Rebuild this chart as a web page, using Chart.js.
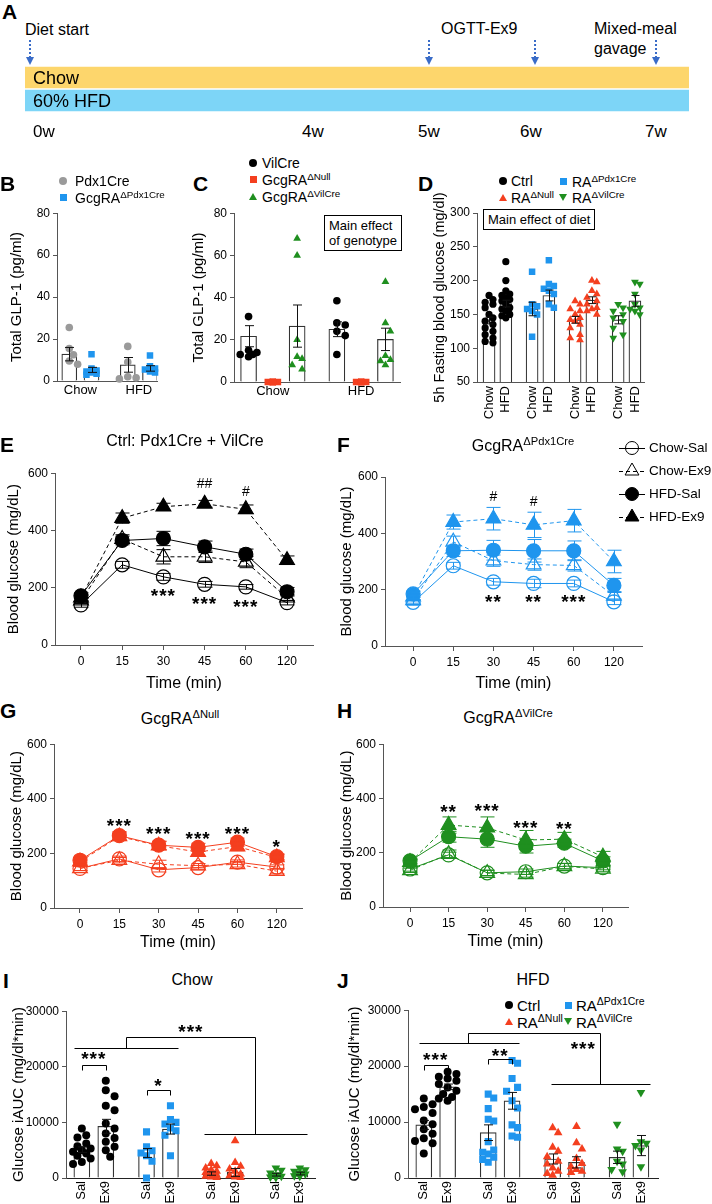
<!DOCTYPE html>
<html>
<head>
<meta charset="utf-8">
<script src="https://cdn.jsdelivr.net/npm/chart.js@4.4.0/dist/chart.umd.min.js"></script>
<style>
  body { margin: 0; background: #fff; }
  #fig { position: relative; width: 712px; height: 1204px; overflow: hidden; background: #fff;
         font-family: "Liberation Sans", Arial, Helvetica, sans-serif; color: #000; }
  #fig canvas { position: absolute; }
  .t { position: absolute; white-space: nowrap; line-height: 1; }
  .t sup { font-size: 0.7em; vertical-align: 0.5em; line-height: 0; }
  .box { position: absolute; border: 1px solid #000; font-size: 13px; line-height: 15px; padding: 2px 4px; background: #fff; }
  .mk { position: absolute; }
</style>
</head>
<body>
<div id="fig"></div>
<script>
// ---------------- data ----------------
const weekLabels = ['0w', '4w', '5w', '6w', '7w'];
const dietLabels = ['Chow', '60% HFD'];

// B: total GLP-1, Pdx1Cre vs GcgRA dPdx1Cre
const bDiets = ['Chow', 'HFD'];
const bPdxCre = [[25.5, 15.5, 12.5, 9.5, 8], [16.5, 9, 2, 1.5, 1]];
const bPdxCreMean = [12.8, 7.7];
const bPdxCreSem = [3.2, 3.5];
const bKo = [[12.8, 6, 5, 4.5, 4, 3.5, 3], [12.2, 7, 6, 5.5, 4.5, 4]];
const bKoMean = [5.3, 6.0];
const bKoSem = [1.2, 1.3];

// C: total GLP-1, VilCre / Null / dVilCre
const cVilCre = [[31, 15, 14, 13, 13, 12], [38.5, 28, 27, 24, 22, 13]];
const cVilCreMean = [21.7, 25];
const cVilCreSem = [5, 3.5];
const cNull = [[0, 0, 0, 0, 0, 0], [0, 0, 0, 0, 0, 0]];
const cNullMean = [0, 0];
const cVil = [[68, 60, 20, 12, 11, 6, 8], [47.5, 28, 24, 12.5, 10.5, 10, 8]];
const cVilMean = [26.5, 20.2];
const cVilSem = [10, 5.3];

// D: 5h fasting glucose [Chow, HFD] per genotype
const dCtrl = [[178, 172, 168, 165, 160, 150, 145, 140, 135, 130, 125, 120, 115, 110, 108],
               [228, 200, 185, 180, 178, 175, 172, 170, 165, 160, 158, 155, 150, 148, 145]];
const dCtrlMean = [141, 166];
const dCtrlSem = [5, 5];
const dPdx = [[213, 165, 162, 158, 155, 150, 117], [230, 195, 192, 188, 185, 180, 165, 160]];
const dPdxMean = [158, 178];
const dPdxSem = [10, 8];
const dNull = [[170, 165, 158, 155, 150, 145, 142, 140, 135, 130, 120, 115, 112],
               [200, 198, 185, 180, 175, 170, 165, 160, 158, 155, 150]];
const dNullMean = [142, 171];
const dNullSem = [5, 5];
const dVil = [[165, 160, 155, 150, 145, 140, 130, 120, 115], [198, 195, 180, 165, 160, 158, 155, 150]];
const dVilMean = [142, 170];
const dVilSem = [6, 8];

// E-H: OGTT blood glucose
const timeLabels = ['0', '15', '30', '45', '60', '120'];
const seriesNames = ['Chow-Sal', 'Chow-Ex9', 'HFD-Sal', 'HFD-Ex9'];

const eChowSal = [140, 280, 238, 212, 203, 148];
const eChowEx9 = [155, 370, 308, 308, 290, 165];
const eHfdSal  = [172, 365, 372, 343, 317, 186];
const eHfdEx9  = [165, 443, 483, 493, 474, 296];
const eSem = [[8, 12, 12, 10, 8, 8], [10, 15, 25, 20, 20, 10], [10, 15, 25, 20, 18, 15], [10, 18, 12, 12, 15, 15]];

const fChowSal = [155, 285, 228, 222, 222, 157];
const fChowEx9 = [162, 370, 303, 289, 286, 178];
const fHfdSal  = [185, 338, 340, 338, 338, 215];
const fHfdEx9  = [175, 440, 452, 430, 445, 300];
const fSem = [[10, 12, 12, 15, 12, 10], [10, 20, 20, 20, 20, 15], [10, 20, 35, 40, 35, 25], [10, 25, 40, 45, 40, 40]];

const gChowSal = [145, 180, 140, 148, 168, 150];
const gChowEx9 = [145, 175, 160, 155, 160, 135];
const gHfdSal  = [175, 265, 230, 222, 241, 188];
const gHfdEx9  = [170, 262, 228, 205, 225, 185];
const gSem = [[8, 10, 8, 8, 8, 8], [8, 10, 15, 8, 10, 10], [10, 15, 15, 15, 15, 10], [10, 15, 15, 15, 15, 10]];

const hChowSal = [140, 192, 126, 130, 151, 145];
const hChowEx9 = [135, 195, 125, 120, 150, 140];
const hHfdSal  = [170, 259, 250, 224, 235, 170];
const hHfdEx9  = [165, 302, 292, 247, 250, 185];
const hSem = [[8, 10, 10, 10, 10, 8], [8, 15, 10, 10, 10, 10], [10, 20, 30, 25, 15, 15], [10, 30, 40, 35, 25, 20]];

// I/J: glucose iAUC [Sal, Ex9] per genotype
const iCtrl = [[8900, 7700, 7300, 6200, 5700, 5300, 5000, 4700, 4400, 4000, 3500, 2900, 2500],
               [17500, 15800, 14700, 13000, 12200, 9800, 8900, 8000, 7200, 6500, 5600, 5000, 3800]];
const iCtrlMean = [5100, 9300];
const iCtrlSem = [500, 1250];
const iPdx = [[8300, 5600, 4900, 4500, 4000, 3000, 0], [13000, 10500, 10000, 9700, 9000, 8500, 7700, 4000]];
const iPdxMean = [4500, 8800];
const iPdxSem = [800, 900];
const iNull = [[2600, 2200, 1800, 1500, 1200, 1000, 800, 500, 300, 200, 100], [6700, 2800, 2100, 1600, 1200, 700, 400, 200, 100]];
const iNullMean = [800, 1000];
const iNullSem = [300, 700];
const iVil = [[1800, 1400, 900, 600, 300, 200, 100], [1800, 1500, 1200, 900, 700, 400, 300]];
const iVilMean = [600, 800];
const iVilSem = [250, 250];

const jCtrl = [[14200, 13200, 12700, 12300, 11600, 10300, 9600, 8700, 7900, 7100, 6600, 6200, 4400],
               [19000, 18600, 18100, 17800, 17400, 16800, 16200, 15600, 15000, 14500, 14200, 13800]];
const jCtrlMean = [9500, 16300];
const jCtrlSem = [800, 500];
const jPdx = [[15000, 14300, 12400, 10500, 10200, 6500, 5000, 4600, 4300, 3700, 3300, 2800],
              [21000, 20500, 17800, 16200, 15500, 13800, 12500, 9500, 9000, 7500, 7300]];
const jPdxMean = [8100, 13800];
const jPdxSem = [1400, 1500];
const jNull = [[9000, 8100, 5500, 4800, 3800, 3000, 2500, 1800, 1200, 800, 500], [9200, 6300, 5200, 3500, 2600, 2000, 1500, 1200, 1000]];
const jNullMean = [3400, 2800];
const jNullSem = [900, 1000];
const jVil = [[9600, 5200, 4800, 3000, 2500, 1500, 1100], [15300, 6500, 6200, 5800, 5000, 2000]];
const jVilMean = [3700, 5800];
const jVilSem = [1100, 1800];

// ---------------- setup ----------------
const FONT = '"Liberation Sans", Arial, Helvetica, sans-serif';
Chart.defaults.font.family = FONT;
Chart.defaults.color = '#000';
const AX = '#555';
const GREY = '#9a9a9a', BLUE = '#1f95ee', RED = '#f43f1f', GREEN = '#1f8f1f';
const fig = document.getElementById('fig');

function addText(html, x, y, size, align, bold) {
  const d = document.createElement('div');
  d.className = 't';
  d.innerHTML = html;
  d.style.left = x + 'px';
  d.style.top = y + 'px';
  d.style.fontSize = size + 'px';
  const ax = align === 'center' ? '-50%' : (align === 'right' ? '-100%' : '0');
  d.style.transform = `translate(${ax},-50%)`;
  if (bold) d.style.fontWeight = 'bold';
  fig.appendChild(d);
}

function marker(shape, color, cx, cy, s) {
  const d = document.createElement('div');
  d.className = 'mk';
  if (shape === 'circle' || shape === 'rect') {
    d.style.cssText += `left:${cx - s / 2}px;top:${cy - s / 2}px;width:${s}px;height:${s}px;background:${color};` +
      (shape === 'circle' ? 'border-radius:50%;' : '');
  } else {
    const h = s * 0.9;
    d.style.cssText += `left:${cx - s / 2}px;top:${cy - h / 2}px;width:0;height:0;` +
      `border-left:${s / 2}px solid transparent;border-right:${s / 2}px solid transparent;` +
      (shape === 'up' ? `border-bottom:${h}px solid ${color};` : `border-top:${h}px solid ${color};`);
  }
  fig.appendChild(d);
}

function box(html, x, y) {
  const d = document.createElement('div');
  d.className = 'box';
  d.innerHTML = html;
  d.style.left = x + 'px';
  d.style.top = y + 'px';
  fig.appendChild(d);
}

// plugins
const errPlugin = {
  id: 'err',
  afterDatasetsDraw(chart) {
    const ctx = chart.ctx, xs = chart.scales.x, ys = chart.scales.y;
    chart.data.datasets.forEach(ds => {
      if (!ds.sem) return;
      ctx.save();
      ctx.strokeStyle = ds.errColor || '#000';
      ctx.lineWidth = 1;
      ds.data.forEach((d, i) => {
        const s = ds.sem[i];
        if (!s) return;
        const x = Math.round(xs.getPixelForValue(d.x)) + 0.5;
        const yt = ys.getPixelForValue(d.y + s), yb = ys.getPixelForValue(d.y - s);
        const c = ds.errCap / 2;
        ctx.beginPath();
        ctx.moveTo(x, yt); ctx.lineTo(x, yb);
        ctx.moveTo(x - c, yt); ctx.lineTo(x + c, yt);
        ctx.moveTo(x - c, yb); ctx.lineTo(x + c, yb);
        ctx.stroke();
      });
      ctx.restore();
    });
  }
};

const notesPlugin = {
  id: 'notes',
  afterDatasetsDraw(chart, args, o) {
    const ctx = chart.ctx, xs = chart.scales.x, ys = chart.scales.y;
    ctx.save();
    ctx.strokeStyle = '#000';
    ctx.lineWidth = 1;
    (o.lines || []).forEach(pl => {
      ctx.beginPath();
      pl.forEach(([x, y], k) => {
        const px = Math.round(xs.getPixelForValue(x)) + 0.5, py = Math.round(ys.getPixelForValue(y)) + 0.5;
        if (k) ctx.lineTo(px, py); else ctx.moveTo(px, py);
      });
      ctx.stroke();
    });
    ctx.fillStyle = '#000';
    ctx.textAlign = 'center';
    ctx.textBaseline = 'middle';
    (o.texts || []).forEach(t => {
      const star = t.t.includes('*');
      const size = star ? 19 : 14;
      ctx.font = `${star ? 'bold ' : ''}${size}px ${FONT}`;
      ctx.letterSpacing = star ? '1px' : '0px';
      ctx.fillText(t.t, xs.getPixelForValue(t.x), ys.getPixelForValue(t.y) + (star ? size * 0.25 : 0));
    });
    ctx.restore();
  }
};

const legendPlugin = {
  id: 'sideLegend',
  afterDraw(chart, args, o) {
    if (!o.items) return;
    const ctx = chart.ctx, ox = chart.canvas.offsetLeft, oy = chart.canvas.offsetTop;
    ctx.save();
    o.items.forEach((it, k) => {
      const x = o.x - ox, y = o.y[k] - oy;
      ctx.strokeStyle = '#000';
      ctx.lineWidth = 1;
      ctx.setLineDash(it.dash);
      ctx.beginPath(); ctx.moveTo(x - 13, y + 0.5); ctx.lineTo(x + 13, y + 0.5); ctx.stroke();
      ctx.setLineDash([]);
      ctx.fillStyle = it.fill ? '#000' : 'rgba(0,0,0,0)';
      Chart.helpers.drawPoint(ctx, { pointStyle: it.style, radius: it.r, rotation: 0, borderWidth: 1.2 }, x, y);
      ctx.fillStyle = '#000';
      ctx.font = `13.5px ${FONT}`;
      ctx.textBaseline = 'middle';
      ctx.textAlign = 'left';
      ctx.fillText(it.label, x + 17, y);
    });
    ctx.restore();
  }
};

function makeCanvas(p) {
  const left = p.x0 - p.yw, top = p.y0 - p.pt;
  const w = p.x1 - left + p.pr, h = p.y1 - top + p.xh;
  const c = document.createElement('canvas');
  c.width = w; c.height = h;
  c.style.left = left + 'px'; c.style.top = top + 'px';
  c.style.width = w + 'px'; c.style.height = h + 'px';
  fig.appendChild(c);
  return c;
}

function baseOptions(p) {
  return {
    responsive: false, animation: false, devicePixelRatio: 1,
    layout: { padding: { left: 0, top: p.pt, right: p.pr, bottom: 0 } },
    plugins: { legend: { display: false }, tooltip: { enabled: false } }
  };
}

function yScale(p, o) {
  return {
    type: 'linear', min: o.ymin, max: o.ymax,
    ticks: { stepSize: o.ystep, font: { size: 12 }, padding: 3, callback: v => String(v) },
    grid: { drawOnChartArea: false, tickLength: 4, color: AX },
    border: { color: AX, width: 1 },
    title: { display: true, text: o.ytitle, font: { size: o.ytitleSize || 15 }, padding: 0 },
    afterFit: s => { s.width = p.yw; }
  };
}

// simple beeswarm: keeps the values, only spreads x so markers do not overlap
function swarm(vals, center, r, pxX, pxY, maxOff) {
  const idx = vals.map((v, i) => i).sort((a, b) => vals[b] - vals[a]);
  const placed = [], out = new Array(vals.length);
  const step = r * 1.1, cand = [0];
  for (let k = 1; k < 10; k++) cand.push(k * step, -k * step);
  idx.forEach(i => {
    const py = vals[i] * pxY;
    let best = 0, bestD = -1;
    for (const off of cand) {
      if (Math.abs(off) > maxOff) continue;
      let dmin = Infinity;
      placed.forEach(q => { dmin = Math.min(dmin, Math.hypot(q.x - off, q.y - py)); });
      if (dmin >= 2 * r * 0.95) { best = off; break; }
      if (dmin > bestD) { bestD = dmin; best = off; }
    }
    placed.push({ x: best, y: py });
    out[i] = center + best / pxX;
  });
  return out;
}

function barPanel(p, o) {
  const pxY = (p.y1 - p.y0) / (o.ymax - o.ymin), pxX = (p.x1 - p.x0) / (o.xmax - o.xmin);
  const datasets = [];
  o.groups.forEach(g => {
    const xs = swarm(g.vals, g.x, g.r, pxX, pxY, o.bw / 2 + 1);
    datasets.push({
      type: 'scatter', data: g.vals.map((v, i) => ({ x: xs[i], y: v })),
      pointStyle: g.style, pointRadius: g.r, pointRotation: g.rot || 0,
      backgroundColor: g.color, borderColor: g.color, borderWidth: 0, order: 1, clip: 8
    });
  });
  datasets.push({
    type: 'bar', data: o.groups.map(g => ({ x: g.x, y: g.mean })),
    sem: o.groups.map(g => g.sem), errCap: o.cap, errColor: '#111',
    backgroundColor: '#fff', borderColor: '#333', borderWidth: 1.2, barThickness: o.bw, order: 5
  });
  const opts = baseOptions(p);
  opts.plugins.notes = { lines: o.lines || [], texts: o.texts || [] };
  opts.scales = {
    x: {
      type: 'linear', min: o.xmin, max: o.xmax, offset: false,
      afterBuildTicks: s => { s.ticks = o.xticks.map(t => ({ value: t[0] })); },
      ticks: { callback: (v, i) => o.xticks[i][1], autoSkip: false, font: { size: 13 },
               minRotation: o.rot || 0, maxRotation: o.rot || 0, padding: o.xpad || 2 },
      grid: { display: false, drawTicks: false },
      border: { color: o.dashedBase ? '#222' : AX, width: 1, dash: o.dashedBase ? [2, 2] : [] },
      afterFit: s => { s.height = p.xh; }
    },
    y: yScale(p, o)
  };
  return new Chart(makeCanvas(p), { type: 'bar', data: { datasets }, options: opts, plugins: [errPlugin, notesPlugin] });
}

const lineStyles = [
  { style: 'circle', fill: false, dash: [], r: 7 },
  { style: 'triangle', fill: false, dash: [4, 3], r: 8.5 },
  { style: 'circle', fill: true, dash: [], r: 7 },
  { style: 'triangle', fill: true, dash: [4, 3], r: 8.5 }
];

function linePanel(p, o) {
  const datasets = o.series.map((s, k) => ({
    type: 'line', label: seriesNames[k], data: s.map((v, i) => ({ x: i, y: v })),
    sem: o.sems[k], errCap: 14, errColor: o.color,
    borderColor: o.color, borderWidth: 1, borderDash: lineStyles[k].dash,
    pointStyle: lineStyles[k].style, pointRadius: lineStyles[k].r,
    pointBackgroundColor: lineStyles[k].fill ? o.color : 'rgba(0,0,0,0)',
    pointBorderColor: o.color, pointBorderWidth: 1.2, fill: false, tension: 0, order: 4 - k
  }));
  const opts = baseOptions(p);
  opts.plugins.notes = { texts: o.texts || [] };
  if (o.legend) opts.plugins.sideLegend = o.legend;
  opts.scales = {
    x: {
      type: 'linear', min: o.xmin, max: o.xmax, offset: false,
      afterBuildTicks: s => { s.ticks = timeLabels.map((t, i) => ({ value: i })); },
      ticks: { callback: (v, i) => timeLabels[i], autoSkip: false, font: { size: 12 }, maxRotation: 0, padding: 4 },
      grid: { drawOnChartArea: false, tickLength: 5, color: AX },
      border: { color: AX, width: 1 },
      title: { display: true, text: 'Time (min)', font: { size: 16 }, padding: 0 },
      afterFit: s => { s.height = p.xh; }
    },
    y: yScale(p, { ymin: 0, ymax: 600, ystep: 200, ytitle: 'Blood glucose (mg/dL)' })
  };
  return new Chart(makeCanvas(p), { type: 'line', data: { datasets }, options: opts, plugins: [errPlugin, notesPlugin, legendPlugin] });
}

// ---------------- panel A ----------------
addText('A', 2, 11, 21, 'left', true);
addText('Diet start', 25, 30, 16, 'left');
addText('OGTT-Ex9', 441, 29, 16, 'left');
addText('Mixed-meal', 594, 29, 16, 'left');
addText('gavage', 594, 49, 16, 'left');
[30, 429, 535, 656].forEach(x => {
  const d = document.createElement('div');
  d.style.cssText = `position:absolute;left:${x - 1}px;top:40px;height:18px;border-left:2px dotted #3a6cc8;`;
  fig.appendChild(d);
  const a = document.createElement('div');
  a.style.cssText = `position:absolute;left:${x - 4}px;top:57px;width:0;height:0;border-left:4px solid transparent;border-right:4px solid transparent;border-top:8px solid #3a6cc8;`;
  fig.appendChild(a);
});
{
  const p = { x0: 25, x1: 689, y0: 66, y1: 112, yw: 0, pt: 0, pr: 0, xh: 0 };
  const opts = baseOptions(p);
  opts.indexAxis = 'y';
  opts.scales = { x: { display: false, min: 0, max: 7 }, y: { display: false } };
  new Chart(makeCanvas(p), {
    type: 'bar',
    data: { labels: dietLabels, datasets: [{ data: [[0, 7], [0, 7]], backgroundColor: ['#fdd66c', '#7dd5f7'],
      barPercentage: 1, categoryPercentage: 0.93 }] },
    options: opts
  });
}
addText(dietLabels[0], 33, 78, 18, 'left');
addText(dietLabels[1], 33, 101, 18, 'left');
[33, 302, 418, 520, 645].forEach((x, i) => addText(weekLabels[i], x, 131, 17, 'left'));

// ---------------- panel B ----------------
addText('B', 0, 183, 21, 'left', true);
marker('circle', GREY, 63, 181, 8); addText('Pdx1Cre', 75, 181, 14, 'left');
marker('rect', BLUE, 63, 197, 7); addText('GcgRA<sup>ΔPdx1Cre</sup>', 75, 198, 14, 'left');
barPanel({ x0: 57, x1: 157, y0: 213, y1: 381, yw: 49, pt: 10, pr: 8, xh: 30 }, {
  ymin: 0, ymax: 80, ystep: 20, ytitle: 'Total GLP-1 (pg/ml)', xmin: -0.40, xmax: 1.31, bw: 15, cap: 9,
  xticks: [[0, bDiets[0]], [1, bDiets[1]]],
  groups: [0, 1].flatMap(g => [
    { x: g - 0.19, vals: bPdxCre[g], mean: bPdxCreMean[g], sem: bPdxCreSem[g], color: GREY, style: 'circle', r: 3.8 },
    { x: g + 0.19, vals: bKo[g], mean: bKoMean[g], sem: bKoSem[g], color: BLUE, style: 'rect', r: 4.6 }
  ])
});

// ---------------- panel C ----------------
addText('C', 193, 183, 21, 'left', true);
marker('circle', '#000', 253, 163, 8); addText('VilCre', 262, 163, 14, 'left');
marker('rect', RED, 253, 179, 7); addText('GcgRA<sup>ΔNull</sup>', 262, 180, 14, 'left');
marker('up', GREEN, 253, 197, 8); addText('GcgRA<sup>ΔVilCre</sup>', 262, 197, 14, 'left');
barPanel({ x0: 234, x1: 400, y0: 213, y1: 382, yw: 44, pt: 10, pr: 8, xh: 30 }, {
  ymin: 0, ymax: 80, ystep: 20, ytitle: 'Total GLP-1 (pg/ml)', xmin: -0.44, xmax: 1.44, bw: 16, cap: 9,
  xticks: [[0, bDiets[0]], [1, bDiets[1]]],
  groups: [0, 1].flatMap(g => [
    { x: g - 0.275, vals: cVilCre[g], mean: cVilCreMean[g], sem: cVilCreSem[g], color: '#000', style: 'circle', r: 3.8 },
    { x: g, vals: cNull[g], mean: cNullMean[g], sem: 0, color: RED, style: 'rect', r: 4.6 },
    { x: g + 0.275, vals: cVil[g], mean: cVilMean[g], sem: cVilSem[g], color: GREEN, style: 'triangle', r: 4.5 }
  ])
});
box('Main effect<br>of genotype', 324, 215);

// ---------------- panel D ----------------
addText('D', 418, 183, 21, 'left', true);
marker('circle', '#000', 503, 181, 8); addText('Ctrl', 511, 181, 14, 'left');
marker('rect', BLUE, 563, 181, 7); addText('RA<sup>ΔPdx1Cre</sup>', 572, 182, 14, 'left');
marker('up', RED, 503, 198, 8); addText('RA<sup>ΔNull</sup>', 511, 198, 14, 'left');
marker('down', GREEN, 563, 198, 8); addText('RA<sup>ΔVilCre</sup>', 572, 198, 14, 'left');
{
  const dSets = [[dCtrl, dCtrlMean, dCtrlSem, '#000', 'circle', 0, 3.6], [dPdx, dPdxMean, dPdxSem, BLUE, 'rect', 0, 4.6],
                 [dNull, dNullMean, dNullSem, RED, 'triangle', 0, 4.5], [dVil, dVilMean, dVilSem, GREEN, 'triangle', 180, 4.5]];
  const groups = [], xticks = [];
  dSets.forEach((s, g) => [0, 1].forEach(k => {
    const x = g + (k ? 0.195 : -0.195);
    groups.push({ x, vals: s[0][k], mean: s[1][k], sem: s[2][k], color: s[3], style: s[4], rot: s[5], r: s[6] });
    xticks.push([x, bDiets[k]]);
  }));
  barPanel({ x0: 477, x1: 647, y0: 213, y1: 382, yw: 46, pt: 40, pr: 8, xh: 45 }, {
    ymin: 50, ymax: 300, ystep: 50, ytitle: '5h Fasting blood glucose (mg/dl)', ytitleSize: 14.5,
    xmin: -0.475, xmax: 3.42, bw: 12, cap: 8, rot: 90, xpad: 4, xticks, groups
  });
}
box('Main effect of diet', 483, 209);

// ---------------- panels E-H ----------------
addText('E', 0, 444, 21, 'left', true);
addText('Ctrl: Pdx1Cre + VilCre', 185, 441, 16, 'center');
linePanel({ x0: 55, x1: 313, y0: 473, y1: 645, yw: 50, pt: 10, pr: 10, xh: 48 }, {
  color: '#000', xmin: -0.63, xmax: 5.63, series: [eChowSal, eChowEx9, eHfdSal, eHfdEx9], sems: eSem,
  texts: [{ x: 2, y: 185, t: '***' }, { x: 3, y: 157, t: '***' }, { x: 4, y: 148, t: '***' },
          { x: 3, y: 561, t: '##' }, { x: 4, y: 533, t: '#' }]
});

addText('F', 337, 444, 21, 'left', true);
addText('GcgRA<sup>ΔPdx1Cre</sup>', 523, 446, 16, 'center');
linePanel({ x0: 385, x1: 642, y0: 477, y1: 646, yw: 47, pt: 40, pr: 70, xh: 47 }, {
  color: BLUE, xmin: -0.7, xmax: 5.7, series: [fChowSal, fChowEx9, fHfdSal, fHfdEx9], sems: fSem,
  texts: [{ x: 2, y: 170, t: '**' }, { x: 3, y: 170, t: '**' }, { x: 4, y: 170, t: '***' },
          { x: 2, y: 529, t: '#' }, { x: 3, y: 511, t: '#' }],
  legend: { x: 632, y: [448, 471, 494, 517],
            items: seriesNames.map((n, k) => ({ label: n, style: lineStyles[k].style, fill: lineStyles[k].fill,
                                                 dash: lineStyles[k].dash, r: lineStyles[k].r - 0.5 })) }
});

addText('G', 0, 710, 21, 'left', true);
addText('GcgRA<sup>ΔNull</sup>', 180, 719, 16, 'center');
linePanel({ x0: 54, x1: 302, y0: 744, y1: 908, yw: 46, pt: 10, pr: 10, xh: 44 }, {
  color: RED, xmin: -0.66, xmax: 5.64, series: [gChowSal, gChowEx9, gHfdSal, gHfdEx9], sems: gSem,
  texts: [{ x: 1, y: 315, t: '***' }, { x: 2, y: 285, t: '***' }, { x: 3, y: 267, t: '***' },
          { x: 4, y: 285, t: '***' }, { x: 5, y: 238, t: '*' }]
});

addText('H', 337, 710, 21, 'left', true);
addText('GcgRA<sup>ΔVilCre</sup>', 508, 718, 16, 'center');
linePanel({ x0: 383, x1: 628, y0: 744, y1: 907, yw: 45, pt: 10, pr: 10, xh: 44 }, {
  color: GREEN, xmin: -0.7, xmax: 5.65, series: [hChowSal, hChowEx9, hHfdSal, hHfdEx9], sems: hSem,
  texts: [{ x: 1, y: 364, t: '**' }, { x: 2, y: 368, t: '***' }, { x: 3, y: 305, t: '***' }, { x: 4, y: 302, t: '**' }]
});

// ---------------- panels I, J ----------------
const aucTicks = ['Sal', 'Ex9'];
function aucGroups(sets) {
  const groups = [], xticks = [];
  sets.forEach((s, g) => [0, 1].forEach(k => {
    const x = g + (k ? 0.185 : -0.185);
    groups.push({ x, vals: s[0][k], mean: s[1][k], sem: s[2][k], color: s[3], style: s[4], rot: s[5], r: s[6] });
    xticks.push([x, aucTicks[k]]);
  }));
  return { groups, xticks };
}

addText('I', 3, 980, 21, 'left', true);
addText('Chow', 192, 980, 16, 'center');
{
  const gg = aucGroups([[iCtrl, iCtrlMean, iCtrlSem, '#000', 'circle', 0, 4], [iPdx, iPdxMean, iPdxSem, BLUE, 'rect', 0, 5],
                        [iNull, iNullMean, iNullSem, RED, 'triangle', 0, 5], [iVil, iVilMean, iVilSem, GREEN, 'triangle', 180, 5]]);
  barPanel({ x0: 66, x1: 315, y0: 1011, y1: 1178, yw: 56, pt: 10, pr: 8, xh: 26 }, {
    ymin: 0, ymax: 30000, ystep: 10000, ytitle: 'Glucose iAUC (mg/dl*min)', xmin: -0.43, xmax: 3.42, bw: 16, cap: 9,
    rot: 90, xpad: 3, dashedBase: true, xticks: gg.xticks, groups: gg.groups,
    lines: [[[-0.185, 19500], [-0.185, 20400], [0.185, 20400], [0.185, 19500]],
            [[0.815, 14900], [0.815, 15750], [1.185, 15750], [1.185, 14900]],
            [[-0.3, 23400], [1.3, 23400]],
            [[0.5, 23400], [0.5, 25300], [2.5, 25300], [2.5, 7900]],
            [[1.7, 7900], [3.3, 7900]]],
    texts: [{ x: 0, y: 22100, t: '***' }, { x: 1, y: 17300, t: '*' }, { x: 1.5, y: 27000, t: '***' }]
  });
}

addText('J', 337, 980, 21, 'left', true);
addText('HFD', 533, 980, 16, 'center');
marker('circle', '#000', 509, 1005, 8); addText('Ctrl', 517, 1005, 15, 'left');
marker('rect', BLUE, 568, 1005, 7); addText('RA<sup>ΔPdx1Cre</sup>', 576, 1005, 15, 'left');
marker('up', RED, 509, 1022, 8); addText('RA<sup>ΔNull</sup>', 517, 1022, 15, 'left');
marker('down', GREEN, 568, 1022, 8); addText('RA<sup>ΔVilCre</sup>', 576, 1022, 15, 'left');
{
  const gg = aucGroups([[jCtrl, jCtrlMean, jCtrlSem, '#000', 'circle', 0, 4], [jPdx, jPdxMean, jPdxSem, BLUE, 'rect', 0, 5],
                        [jNull, jNullMean, jNullSem, RED, 'triangle', 0, 5], [jVil, jVilMean, jVilSem, GREEN, 'triangle', 180, 5]]);
  barPanel({ x0: 408, x1: 658, y0: 1010, y1: 1178, yw: 62, pt: 10, pr: 8, xh: 26 }, {
    ymin: 0, ymax: 30000, ystep: 10000, ytitle: 'Glucose iAUC (mg/dl*min)', xmin: -0.43, xmax: 3.45, bw: 16, cap: 9,
    rot: 90, xpad: 3, dashedBase: true, xticks: gg.xticks, groups: gg.groups,
    lines: [[[-0.185, 19300], [-0.185, 20200], [0.185, 20200], [0.185, 19300]],
            [[0.815, 20400], [0.815, 21250], [1.185, 21250], [1.185, 20400]],
            [[-0.26, 24200], [1.29, 24200]],
            [[0.5, 24200], [0.5, 25850], [2.55, 25850], [2.55, 16800]],
            [[1.79, 16800], [3.32, 16800]]],
    texts: [{ x: 0, y: 21800, t: '***' }, { x: 1, y: 22600, t: '**' }, { x: 2.29, y: 23700, t: '***' }]
  });
}
</script>
</body>
</html>
